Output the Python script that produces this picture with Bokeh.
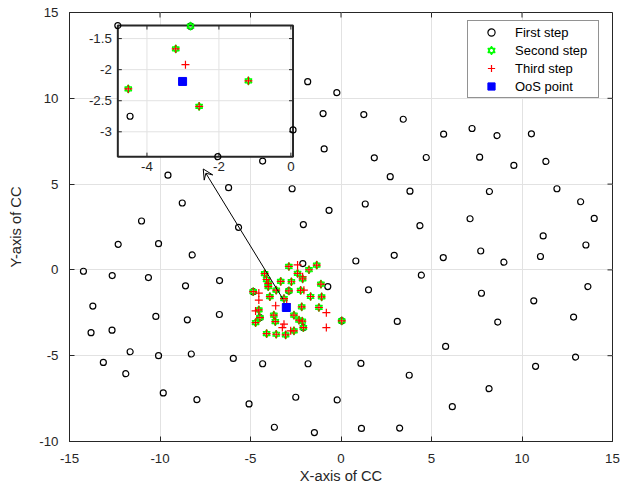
import numpy as np
from bokeh.plotting import figure
from bokeh.models import (FixedTicker, Range1d, Legend, LegendItem, Arrow, VeeHead)
from bokeh.core.properties import value
from bokeh.embed import file_html
from bokeh.resources import INLINE

# ---------------- data ----------------
x_ticks = [-15, -10, -5, 0, 5, 10, 15]
x_tick_labels = ["-15", "-10", "-5", "0", "5", "10", "15"]
y_ticks = [-10, -5, 0, 5, 10, 15]
y_tick_labels = ["-10", "-5", "0", "5", "10", "15"]

first_x = [-1.84, -0.23, -0.99, 1.26, 3.44, 5.67, 7.24, 8.62, 10.52, -0.93, 1.84, 4.71,
           7.66, 9.55, 11.32, 2.72, 3.81, 8.20, 11.93, -0.66, 1.34, 4.36, 7.13, 13.24,
           13.99, 11.17, 13.53, -2.08, 0.82, 2.94, 5.65, 7.72, 9.00, 11.02,
           4.44, 13.64, -0.73, 1.52, 7.76, 10.65, 12.85, 3.11, 8.66, 0.04, 5.78, 12.96,
           10.75, -1.82, 1.10, 3.77, 8.18, 6.15, -0.21, -1.47, 1.13, 3.24, -2.11,
           -6.21, -2.70, -8.77, -11.02, -5.66, -12.31, -10.08, -8.22, -14.23, -12.64,
           -10.64, -6.71, -8.59, -13.71, -10.23, -8.49, -6.72, -13.81, -12.65, -11.65,
           -10.08, -8.27, -5.95, -4.33, -13.13, -11.89, -9.82, -7.96, -5.08, -2.50,
           -3.68, -4.33, -9.56, -4.85, -4.48, -2.08, -2.88]
first_y = [10.97, 10.33, 9.11, 9.05, 8.78, 7.91, 8.24, 7.83, 7.93, 7.05, 6.53, 6.55,
           6.57, 6.09, 6.32, 5.43, 4.59, 4.57, 4.73, 3.47, 3.84, 2.58, 2.98, 3.97,
           3.00, 1.98, 1.45, 2.64, 0.52, 0.85, 0.72, 1.10, 0.45, 0.78,
           -0.31, -0.97, -0.97, -1.16, -1.36, -1.80, -2.75, -3.00, -3.04, -2.97, -4.46, -5.08,
           -5.62, -5.47, -5.45, -6.14, -6.92, -7.97, -7.58, -9.48, -9.24, -9.22, 0.37,
           4.79, 4.73, 3.90, 2.85, 2.48, 1.49, 1.53, 0.87, -0.08, -0.33,
           -0.45, -0.62, -0.93, -2.11, -2.71, -2.91, -2.60, -3.66, -3.51, -4.77,
           -5.00, -4.90, -5.16, -5.47, -5.39, -6.05, -7.17, -7.56, -7.81, -7.42,
           -9.17, 6.34, 5.52, -1.27, -2.78, -3.36, -1.22]

second_x = [-2.88, -1.34, -1.77, -2.40, -4.22, -4.11, -4.02, -3.33, -2.74, -2.12,
            -1.11, -4.85, -3.93, -3.58, -4.02, -2.88, -2.23, -1.68, -1.07, -3.15,
            -2.17, -1.22, -4.54, -4.48, -4.72, -3.71, -3.63, -2.60, -2.32, -2.08,
            -4.11, -3.58, -3.06, -2.60, 0.04, -2.14]
second_y = [0.20, 0.28, 0.01, -0.20, -0.22, -0.56, -0.78, -0.67, -0.69, -0.52,
            -0.83, -1.27, -1.56, -1.18, -0.97, -1.22, -1.19, -1.55, -1.57, -1.67,
            -2.15, -2.19, -2.33, -2.78, -3.07, -2.64, -3.01, -2.64, -2.93, -3.36,
            -3.71, -3.75, -3.79, -3.55, -2.97, -2.99]

third_extra_x = [-2.40, -4.54, -4.54, -2.05, -3.61, -4.72, -0.81, -3.15, -3.24, -0.81, -2.78, -3.00, -2.12]
third_extra_y = [0.29, -1.35, -1.76, -1.18, -2.09, -2.39, -2.49, -3.16, -3.36, -3.36, -3.55, -1.96, -0.40]
third_x = second_x + third_extra_x
third_y = second_y + third_extra_y

oos_x = [-3.02]
oos_y = [-2.19]

# inset (zoomed view)
inset_xlim = (-4.81, 0.06)
inset_ylim = (-3.40, -1.29)
inset_xticks = [-4, -2, 0]
inset_xtick_labels = ["-4", "-2", "0"]
inset_yticks = [-1.5, -2, -2.5, -3]
inset_ytick_labels = ["-1.5", "-2", "-2.5", "-3"]
inset_first_x = [-4.81, -4.47, -2.03, 0.06, -2.79]
inset_first_y = [-1.29, -2.75, -3.40, -2.97, -1.30]
inset_second_x = [-2.79, -3.20, -1.18, -4.52, -2.55]
inset_second_y = [-1.30, -1.666, -2.18, -2.31, -2.59]
inset_third_x = [-3.20, -2.93, -1.18, -4.52, -2.55]
inset_third_y = [-1.666, -1.92, -2.18, -2.31, -2.59]
inset_oos_x = [-3.01]
inset_oos_y = [-2.19]

arrow_tail = (-3.20, -1.71)
arrow_head = (-7.61, 5.88)

# ---------------- layout / style ----------------
FONT = "Liberation Sans"
AX = "#262626"
GRID = "#e2e2e2"
INSET_BOX = (-12.33, -2.65, 6.60, 14.24)   # inset frame, in main-axes units

p = figure(width=632, height=487, x_range=Range1d(-15, 15), y_range=Range1d(-10, 15),
           output_backend="svg", toolbar_location=None,
           min_border_left=69, min_border_right=20, min_border_top=12, min_border_bottom=46)
p.background_fill_color = "white"
p.border_fill_color = "white"
p.outline_line_color = AX
p.outline_line_width = 1

for ax, ticks, labels in ((p.xaxis[0], x_ticks, x_tick_labels), (p.yaxis[0], y_ticks, y_tick_labels)):
    ax.ticker = FixedTicker(ticks=ticks)
    ax.major_label_overrides = {t: l for t, l in zip(ticks, labels)}
    ax.major_tick_in = 5
    ax.major_tick_out = 0
    ax.minor_tick_in = 0
    ax.minor_tick_out = 0
    ax.axis_line_color = AX
    ax.major_tick_line_color = AX
    ax.major_label_text_font = FONT
    ax.major_label_text_font_size = "13.3px"
    ax.major_label_text_color = AX
    ax.axis_label_text_font = FONT
    ax.axis_label_text_font_size = "14.7px"
    ax.axis_label_text_font_style = "normal"
    ax.axis_label_text_color = AX

p.xaxis.axis_label = "X-axis of CC"
p.yaxis.axis_label = "Y-axis of CC"
p.xaxis.major_label_standoff = 12
p.xaxis.axis_label_standoff = 2
p.yaxis.major_label_standoff = 11
p.yaxis.axis_label_standoff = 12

# mirrored inward ticks on top and right edges
p.ray(x=x_ticks, y=[15] * len(x_ticks), length=5, length_units="screen", angle=-np.pi / 2,
      line_color=AX, line_width=1)
p.ray(x=[15] * len(y_ticks), y=y_ticks, length=5, length_units="screen", angle=np.pi,
      line_color=AX, line_width=1)

p.xgrid.ticker = FixedTicker(ticks=x_ticks)
p.ygrid.ticker = FixedTicker(ticks=y_ticks)
p.xgrid.grid_line_color = GRID
p.ygrid.grid_line_color = GRID


def add_points(fx, fy, sx, sy, tx, ty, ox, oy, **kw):
    r1 = p.scatter(fx, fy, marker="circle", size=6, fill_color=None, line_color="black",
                   line_width=1.2, **kw)
    r2a = p.scatter(sx, sy, marker="triangle", size=7, fill_color=None, line_color="#00ff00",
                    line_width=1.2, **kw)
    r2b = p.scatter(sx, sy, marker="inverted_triangle", size=7, fill_color=None,
                    line_color="#00ff00", line_width=1.2, **kw)
    r3 = p.scatter(tx, ty, marker="cross", size=8, line_color="#ff0000", line_width=1.2, **kw)
    r4 = p.scatter(ox, oy, marker="square", size=8, fill_color="#0000ff", line_color="#0000ff", **kw)
    return r1, [r2a, r2b], r3, r4


r_first, r_second, r_third, r_oos = add_points(first_x, first_y, second_x, second_y,
                                               third_x, third_y, oos_x, oos_y)

# ---- inset, drawn through extra ranges mapped onto the inset box ----
ix0, ix1 = inset_xlim
iy0, iy1 = inset_ylim
bx0, bx1, by0, by1 = INSET_BOX


def mapped(a0, a1, b0, b1, m0, m1):
    k = (a1 - a0) / (b1 - b0)
    return Range1d(a0 + (m0 - b0) * k, a0 + (m1 - b0) * k)


p.extra_x_ranges = {"ix": mapped(ix0, ix1, bx0, bx1, -15, 15)}
p.extra_y_ranges = {"iy": mapped(iy0, iy1, by0, by1, -10, 15)}
IK = dict(x_range_name="ix", y_range_name="iy")

p.quad(left=ix0, right=ix1, bottom=iy0, top=iy1, fill_color="white", line_color=None, **IK)
p.segment(x0=inset_xticks, y0=[iy0] * 3, x1=inset_xticks, y1=[iy1] * 3,
          line_color=GRID, line_width=1, **IK)
p.segment(x0=[ix0] * 4, y0=inset_yticks, x1=[ix1] * 4, y1=inset_yticks,
          line_color=GRID, line_width=1, **IK)
p.quad(left=ix0, right=ix1, bottom=iy0, top=iy1, fill_color=None, line_color=AX,
       line_width=2, **IK)
p.ray(x=inset_xticks, y=[iy0] * 3, length=4, length_units="screen", angle=np.pi / 2,
      line_color=AX, line_width=1, **IK)
p.ray(x=inset_xticks, y=[iy1] * 3, length=4, length_units="screen", angle=-np.pi / 2,
      line_color=AX, line_width=1, **IK)
p.ray(x=[ix0] * 4, y=inset_yticks, length=4, length_units="screen", angle=0,
      line_color=AX, line_width=1, **IK)
p.ray(x=[ix1] * 4, y=inset_yticks, length=4, length_units="screen", angle=np.pi,
      line_color=AX, line_width=1, **IK)
p.text(x=inset_xticks, y=[iy0] * 3, text=inset_xtick_labels, text_align="center",
       text_baseline="top", y_offset=5, text_font=value(FONT), text_font_size=value("13.3px"),
       text_color=AX, **IK)
p.text(x=[ix0] * 4, y=inset_yticks, text=inset_ytick_labels, text_align="right",
       text_baseline="middle", x_offset=-6, text_font=value(FONT),
       text_font_size=value("13.3px"), text_color=AX, **IK)

add_points(inset_first_x, inset_first_y, inset_second_x, inset_second_y,
           inset_third_x, inset_third_y, inset_oos_x, inset_oos_y, **IK)

p.add_layout(Arrow(end=VeeHead(size=10, line_color="black", line_width=1, fill_color=None),
                   x_start=arrow_tail[0], y_start=arrow_tail[1],
                   x_end=arrow_head[0], y_end=arrow_head[1],
                   line_color="black", line_width=1))

legend = Legend(items=[LegendItem(label="First step", renderers=[r_first]),
                       LegendItem(label="Second step", renderers=r_second),
                       LegendItem(label="Third step", renderers=[r_third]),
                       LegendItem(label="OoS point", renderers=[r_oos])],
                location=(398, 343), padding=2, spacing=0, margin=0,
                glyph_width=42, glyph_height=18, label_height=18, label_width=81,
                label_standoff=3, label_text_font=FONT, label_text_font_size="13px",
                label_text_color="black", border_line_color=AX, border_line_width=1,
                background_fill_color="white", background_fill_alpha=1)
p.add_layout(legend)

open("out.html", "w").write(file_html(p, INLINE))
